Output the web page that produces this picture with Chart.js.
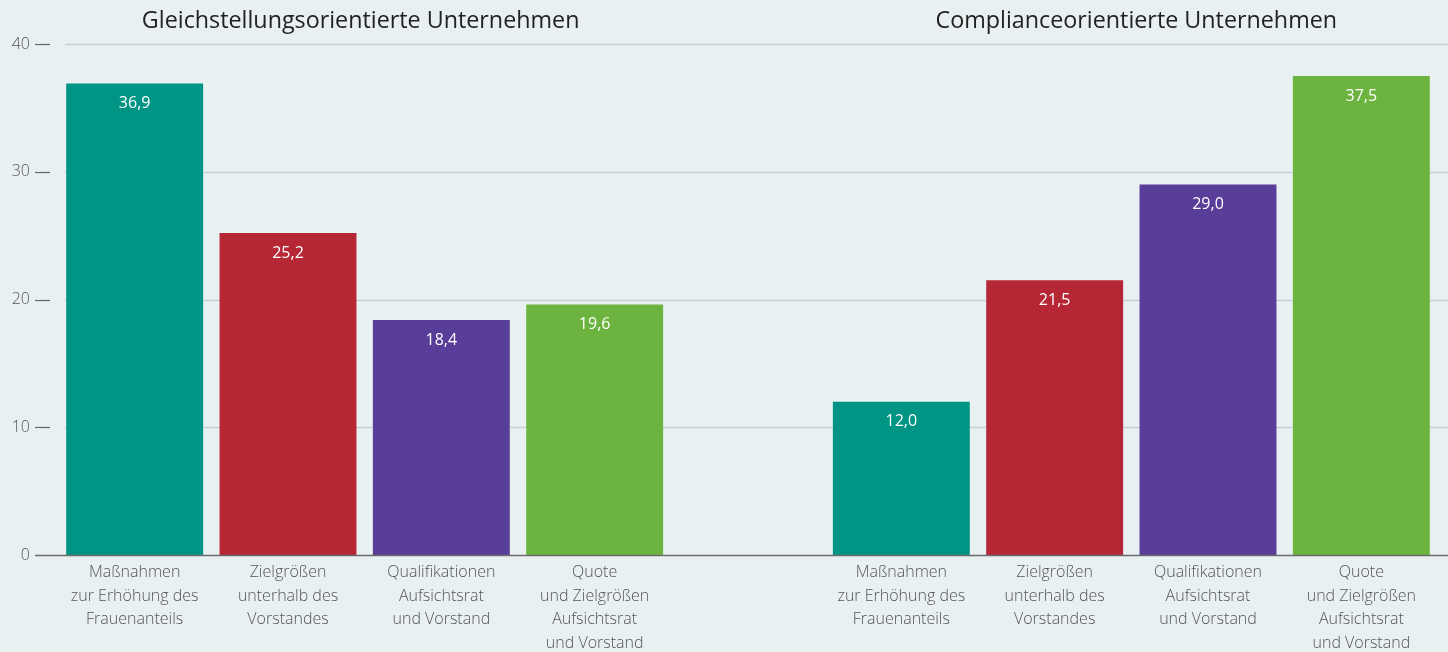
<!DOCTYPE html>
<html>
<head>
<meta charset="utf-8">
<script src="https://cdn.jsdelivr.net/npm/chart.js@4/dist/chart.umd.min.js"></script>
<style>
  html, body { margin: 0; padding: 0; background: #e8f0f2; }
  #wrap { width: 1448px; height: 652px; }
</style>
</head>
<body>
<div id="wrap"><canvas id="chart" width="1448" height="652"></canvas></div>
<script>
// data
const groupTitles = ['Gleichstellungsorientierte Unternehmen', 'Complianceorientierte Unternehmen'];
const categories = [
    ['Maßnahmen', 'zur Erhöhung des', 'Frauenanteils'],
    ['Zielgrößen', 'unterhalb des', 'Vorstandes'],
    ['Qualifikationen', 'Aufsichtsrat', 'und Vorstand'],
    ['Quote', 'und Zielgrößen', 'Aufsichtsrat', 'und Vorstand']
];
const gleichstellung = [36.9, 25.2, 18.4, 19.6];
const compliance = [12.0, 21.5, 29.0, 37.5];
const barColors = ['#009485', '#b62735', '#583e98', '#6cb43f'];
const yTicks = [0, 10, 20, 30, 40];

// one empty slot between the two groups
const labels = [...categories, '', ...categories];
const values = [...gleichstellung, null, ...compliance];
const colors = [...barColors, 'rgba(0,0,0,0)', ...barColors];

const FONT = '"Open Sans", sans-serif';

const decor = {
    id: 'decor',
    beforeDatasetsDraw(chart) {
        const ctx = chart.ctx;
        const y = chart.scales.y;
        const W = chart.width;
        ctx.save();
        yTicks.forEach(v => {
            const py = Math.round(y.getPixelForValue(v)) + 0.5;
            if (v === 0) return;
            ctx.strokeStyle = '#c6cfd2';
            ctx.lineWidth = 1.5;
            ctx.beginPath();
            ctx.moveTo(65, py);
            ctx.lineTo(W, py);
            ctx.stroke();
            ctx.strokeStyle = '#666';
            ctx.lineWidth = 1.2;
            ctx.beginPath();
            ctx.moveTo(35, py);
            ctx.lineTo(50, py);
            ctx.stroke();
        });
        ctx.restore();
    },
    afterDatasetsDraw(chart) {
        const ctx = chart.ctx;
        const x = chart.scales.x;
        const y = chart.scales.y;
        const meta = chart.getDatasetMeta(0);
        ctx.save();
        // zero line
        const py0 = Math.round(y.getPixelForValue(0)) + 0.5;
        ctx.strokeStyle = '#6b6b6b';
        ctx.lineWidth = 1.5;
        ctx.beginPath();
        ctx.moveTo(35, py0);
        ctx.lineTo(chart.width, py0);
        ctx.stroke();

        // value labels inside bars
        ctx.fillStyle = '#ffffff';
        ctx.font = '16px ' + FONT;
        ctx.textAlign = 'center';
        ctx.textBaseline = 'middle';
        meta.data.forEach((bar, i) => {
            const v = values[i];
            if (v === null) return;
            ctx.fillText(v.toFixed(1).replace('.', ','), bar.x, bar.y + 20);
        });

        // group titles
        ctx.fillStyle = '#222';
        ctx.font = '23.3px ' + FONT;
        const c1 = (x.getPixelForValue(1) + x.getPixelForValue(2)) / 2;
        const c2 = (x.getPixelForValue(6) + x.getPixelForValue(7)) / 2;
        ctx.fillText(groupTitles[0], c1 - 4, 21);
        ctx.fillText(groupTitles[1], c2 + 5, 21);
        ctx.restore();
    }
};

new Chart(document.getElementById('chart').getContext('2d'), {
    type: 'bar',
    data: {
        labels: labels,
        datasets: [{
            data: values,
            backgroundColor: colors,
            borderWidth: 0,
            barPercentage: 0.893,
            categoryPercentage: 1.0
        }]
    },
    options: {
        responsive: false,
        animation: false,
        layout: { padding: { top: 44, right: 10, left: 0, bottom: 0 } },
        plugins: {
            legend: { display: false },
            tooltip: { enabled: false }
        },
        scales: {
            x: {
                grid: { display: false, drawTicks: false },
                border: { display: false },
                ticks: {
                    color: '#555',
                    font: { family: FONT, size: 16, weight: 300, lineHeight: 1.47 },
                    padding: 6,
                    maxRotation: 0,
                    autoSkip: false
                },
                afterFit(scale) { scale.height = 97; }
            },
            y: {
                min: 0,
                max: 40,
                grid: { display: false, drawTicks: false },
                border: { display: false },
                ticks: {
                    stepSize: 10,
                    color: '#555',
                    font: { family: FONT, size: 16, weight: 300 },
                    padding: 28
                },
                afterFit(scale) { scale.width = 58; }
            }
        }
    },
    plugins: [decor]
});
</script>
</body>
</html>
